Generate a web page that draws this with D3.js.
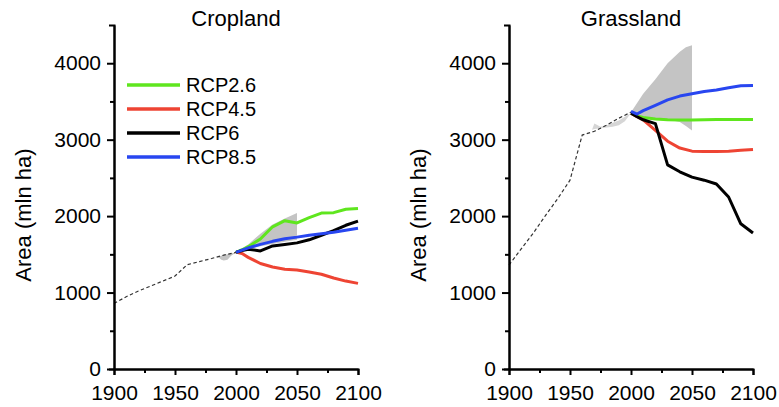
<!DOCTYPE html>
<html>
<head>
<meta charset="utf-8">
<script src="https://cdn.jsdelivr.net/npm/d3@7/dist/d3.min.js"></script>
<style>
  html, body { margin: 0; padding: 0; background: #fff; }
  svg { display: block; }
  text { font-family: "Liberation Sans", Arial, Helvetica, sans-serif; fill: #000; }
</style>
</head>
<body>
<svg id="chart" width="779" height="407"></svg>
<script>
// ---------- DATA ----------
const panels = ["Cropland", "Grassland"];
const seriesNames = ["RCP2.6", "RCP4.5", "RCP6", "RCP8.5"];
const seriesColors = ["#5fe61e", "#ee4433", "#000000", "#2846f0"];

const xTicks = [1900, 1950, 2000, 2050, 2100];
const xMinorTicks = [1925, 1975, 2025, 2075];
const yTicks = [0, 1000, 2000, 3000, 4000];
const yMinorTicks = [500, 1500, 2500, 3500];

// historical (dashed)
const histYears = [1900, 1910, 1920, 1930, 1940, 1950, 1960, 1970, 1980, 1990, 2000];
const histCrop  = [858, 945, 1020, 1085, 1150, 1216, 1365, 1405, 1445, 1490, 1525];
const histGrass = [1360, 1570, 1780, 2010, 2230, 2470, 3060, 3110, 3190, 3280, 3360];

// historical uncertainty patches
const cropPatchYears = [1985, 1988, 1990, 1993, 1996, 2000];
const cropPatchUpper = [1470, 1480, 1490, 1500, 1510, 1525];
const cropPatchLower = [1470, 1430, 1420, 1430, 1480, 1525];
const grassPatchYears = [1968, 1970, 1975, 1980, 1985, 1990, 1995, 2000];
const grassPatchUpper = [3130, 3210, 3170, 3190, 3220, 3250, 3300, 3350];
const grassPatchLower = [3130, 3140, 3150, 3160, 3170, 3190, 3240, 3350];

// projection uncertainty wedges
const cropWedgeYears = [2000, 2010, 2020, 2030, 2040, 2050];
const cropWedgeUpper = [1525, 1630, 1770, 1890, 1970, 2040];
const cropWedgeLower = [1525, 1570, 1605, 1635, 1665, 1690];
const grassWedgeYears = [2000, 2005, 2010, 2020, 2030, 2040, 2045, 2050];
const grassWedgeUpper = [3360, 3480, 3600, 3790, 4000, 4150, 4210, 4235];
const grassWedgeLower = [3350, 3310, 3290, 3270, 3265, 3230, 3180, 3120];

// scenario projections
const projYears = [2000, 2005, 2010, 2020, 2030, 2040, 2050, 2060, 2070, 2080, 2090, 2100];
const cropRCP26 = [1525, 1560, 1600, 1700, 1860, 1940, 1910, 1980, 2040, 2045, 2090, 2100];
const cropRCP45 = [1530, 1510, 1460, 1380, 1335, 1305, 1294, 1270, 1240, 1190, 1150, 1120];
const cropRCP6  = [1525, 1550, 1565, 1545, 1610, 1630, 1650, 1690, 1750, 1810, 1880, 1935];
const cropRCP85 = [1525, 1555, 1585, 1630, 1670, 1705, 1725, 1750, 1770, 1790, 1815, 1840];
const grassRCP26 = [3345, 3310, 3290, 3270, 3260, 3258, 3258, 3262, 3265, 3265, 3265, 3265];
const grassRCP45 = [3345, 3300, 3260, 3120, 2980, 2890, 2850, 2845, 2845, 2850, 2860, 2870];
const grassRCP6  = [3345, 3300, 3260, 3210, 2670, 2580, 2510, 2470, 2420, 2250, 1900, 1780];
const grassRCP85 = [3370, 3335, 3380, 3450, 3520, 3570, 3600, 3630, 3650, 3680, 3705, 3710];

const yAxisLabel = "Area (mln ha)";

// ---------- LAYOUT ----------
const svg = d3.select("#chart");
const layout = [
  { x0: 114, x1: 358, title: panels[0], labelX: 31,
    hist: histCrop, patch: [cropPatchYears, cropPatchUpper, cropPatchLower, "#c4c4c4"],
    wedge: [cropWedgeYears, cropWedgeUpper, cropWedgeLower],
    series: [cropRCP26, cropRCP45, cropRCP6, cropRCP85], drawOrder: [1, 0, 2, 3], legend: true },
  { x0: 509, x1: 753, title: panels[1], labelX: 426,
    hist: histGrass, patch: [grassPatchYears, grassPatchUpper, grassPatchLower, "#d6d6d6"],
    wedge: [grassWedgeYears, grassWedgeUpper, grassWedgeLower],
    series: [grassRCP26, grassRCP45, grassRCP6, grassRCP85], drawOrder: [0, 1, 2, 3], legend: false }
];
const yTop = 25, yBottom = 369;

layout.forEach(p => {
  const x = d3.scaleLinear().domain([1900, 2100]).range([p.x0, p.x1]);
  const y = d3.scaleLinear().domain([0, 4500]).range([yBottom, yTop]);
  const g = svg.append("g");

  // uncertainty areas
  const area = (yrs, up, lo) => d3.area()
    .x((d, i) => x(yrs[i])).y0((d, i) => y(lo[i])).y1((d, i) => y(up[i]))(yrs);
  g.append("path").attr("d", area(p.patch[0], p.patch[1], p.patch[2]))
    .attr("fill", p.patch[3]).attr("stroke", "none");
  g.append("path").attr("d", area(p.wedge[0], p.wedge[1], p.wedge[2]))
    .attr("fill", "#c4c4c4").attr("stroke", "none");

  // historical dashed line
  const line = (yrs, vals) => d3.line().x((d, i) => x(yrs[i])).y((d, i) => y(vals[i]))(yrs);
  g.append("path").attr("d", line(histYears, p.hist))
    .attr("fill", "none").attr("stroke", "#333").attr("stroke-width", 1.2)
    .attr("stroke-dasharray", "3.5,2.5");

  // projections
  p.drawOrder.forEach(k => {
    g.append("path").attr("d", line(projYears, p.series[k]))
      .attr("fill", "none").attr("stroke", seriesColors[k]).attr("stroke-width", 3)
      .attr("stroke-linejoin", "round");
  });

  // axes
  const yAxis = d3.axisLeft(y).tickValues(yTicks).tickSize(7).tickSizeOuter(5).tickPadding(6)
    .tickFormat(d3.format("d"));
  const yMinor = d3.axisLeft(y).tickValues(yMinorTicks).tickSize(4).tickSizeOuter(0).tickFormat("");
  const xAxis = d3.axisBottom(x).tickValues(xTicks).tickSize(6).tickSizeOuter(6).tickPadding(10)
    .tickFormat(d3.format("d"));
  const xMinor = d3.axisBottom(x).tickValues(xMinorTicks).tickSize(4).tickSizeOuter(0).tickFormat("");

  const styleAxis = sel => {
    sel.selectAll("path.domain").attr("stroke", "#000").attr("stroke-width", 2);
    sel.selectAll(".tick line").attr("stroke", "#000").attr("stroke-width", 2);
    sel.selectAll(".tick text").attr("font-size", 21)
      .attr("font-family", "'Liberation Sans', Arial, sans-serif").attr("fill", "#000");
  };
  g.append("g").attr("transform", `translate(${p.x0},0)`).call(yMinor).call(styleAxis);
  g.append("g").attr("transform", `translate(${p.x0},0)`).call(yAxis).call(styleAxis);
  g.append("g").attr("transform", `translate(0,${yBottom})`).call(xMinor).call(styleAxis);
  g.append("g").attr("transform", `translate(0,${yBottom})`).call(xAxis).call(styleAxis);

  // title
  g.append("text").attr("x", (p.x0 + p.x1) / 2).attr("y", 26)
    .attr("text-anchor", "middle").attr("font-size", 22).text(p.title);

  // y label
  g.append("text").attr("transform", `translate(${p.labelX},215) rotate(-90)`)
    .attr("text-anchor", "middle").attr("font-size", 22).text(yAxisLabel);

  // legend
  if (p.legend) {
    const lg = g.append("g");
    seriesNames.forEach((name, i) => {
      const ly = 85 + i * 24;
      lg.append("line").attr("x1", 127).attr("x2", 180).attr("y1", ly).attr("y2", ly)
        .attr("stroke", seriesColors[i]).attr("stroke-width", 3.5);
      lg.append("text").attr("x", 186).attr("y", ly).attr("dy", "0.35em")
        .attr("font-size", 20).text(name);
    });
  }
});
</script>
</body>
</html>
